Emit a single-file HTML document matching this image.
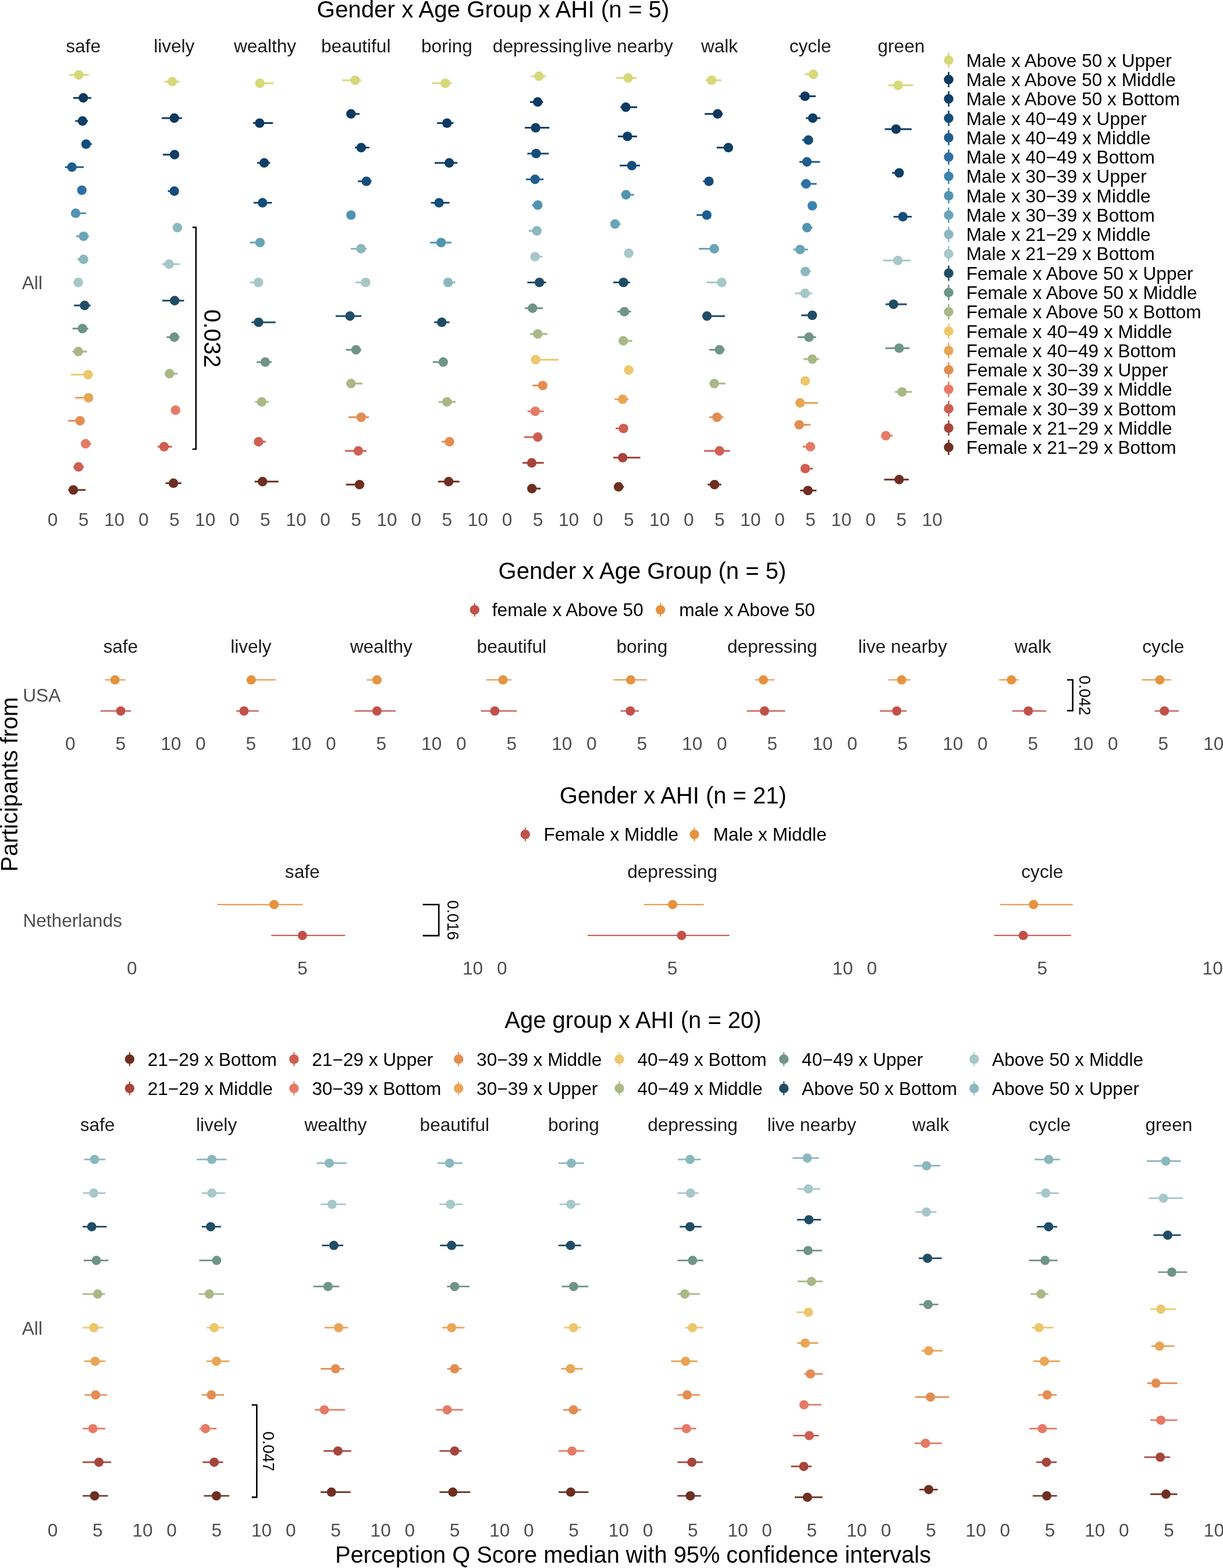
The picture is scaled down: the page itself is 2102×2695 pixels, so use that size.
<!DOCTYPE html>
<html><head><meta charset="utf-8"><title>Perception Q Score</title>
<style>html,body{margin:0;padding:0;background:#fff;} svg{display:block;} text{font-family:"Liberation Sans", Arial, sans-serif;}</style>
</head><body>
<svg width="2102" height="2695" viewBox="0 0 2102 2695">
<rect width="2102" height="2695" fill="#fff"/>
<text x="847.5" y="29.8" font-size="40.3" text-anchor="middle" fill="#000">Gender x Age Group x AHI (n = 5)</text>
<text x="143.1" y="89.6" font-size="31.6" text-anchor="middle" fill="#1A1A1A">safe</text>
<text x="90.5" y="903.5" font-size="31.6" text-anchor="middle" fill="#4D4D4D">0</text>
<text x="143.5" y="903.5" font-size="31.6" text-anchor="middle" fill="#4D4D4D">5</text>
<text x="196.5" y="903.5" font-size="31.6" text-anchor="middle" fill="#4D4D4D">10</text>
<line x1="118.9" y1="128.7" x2="152.9" y2="128.7" stroke="#D7D87A" stroke-width="3.0"/>
<circle cx="135.4" cy="128.7" r="8.2" fill="#D7D87A"/>
<line x1="126.0" y1="168.3" x2="156.8" y2="168.3" stroke="#0D3961" stroke-width="3.0"/>
<circle cx="143.2" cy="168.3" r="8.2" fill="#0D3961"/>
<line x1="129.3" y1="208.0" x2="151.0" y2="208.0" stroke="#0E3F67" stroke-width="3.0"/>
<circle cx="141.8" cy="208.0" r="8.2" fill="#0E3F67"/>
<line x1="147.9" y1="247.6" x2="157.9" y2="247.6" stroke="#144C7A" stroke-width="3.0"/>
<circle cx="147.9" cy="247.6" r="8.2" fill="#144C7A"/>
<line x1="111.8" y1="287.2" x2="143.9" y2="287.2" stroke="#1F5D90" stroke-width="3.0"/>
<circle cx="123.6" cy="287.2" r="8.2" fill="#1F5D90"/>
<circle cx="140.7" cy="326.9" r="8.2" fill="#2E70A4"/>
<line x1="130.0" y1="366.5" x2="147.9" y2="366.5" stroke="#5094B1" stroke-width="3.0"/>
<circle cx="130.0" cy="366.5" r="8.2" fill="#5094B1"/>
<line x1="130.7" y1="406.1" x2="152.9" y2="406.1" stroke="#69A4B7" stroke-width="3.0"/>
<circle cx="143.6" cy="406.1" r="8.2" fill="#69A4B7"/>
<line x1="132.9" y1="445.8" x2="143.6" y2="445.8" stroke="#8BB7BE" stroke-width="3.0"/>
<circle cx="143.6" cy="445.8" r="8.2" fill="#8BB7BE"/>
<line x1="126.4" y1="485.4" x2="134.6" y2="485.4" stroke="#A7C7C9" stroke-width="3.0"/>
<circle cx="134.6" cy="485.4" r="8.2" fill="#A7C7C9"/>
<line x1="127.0" y1="525.0" x2="155.7" y2="525.0" stroke="#1F4D66" stroke-width="3.0"/>
<circle cx="145.4" cy="525.0" r="8.2" fill="#1F4D66"/>
<line x1="124.6" y1="564.7" x2="151.8" y2="564.7" stroke="#6F9488" stroke-width="3.0"/>
<circle cx="141.8" cy="564.7" r="8.2" fill="#6F9488"/>
<line x1="124.6" y1="604.3" x2="149.3" y2="604.3" stroke="#A9B886" stroke-width="3.0"/>
<circle cx="134.6" cy="604.3" r="8.2" fill="#A9B886"/>
<line x1="121.8" y1="643.9" x2="151.4" y2="643.9" stroke="#EDC76C" stroke-width="3.0"/>
<circle cx="151.4" cy="643.9" r="8.2" fill="#EDC76C"/>
<line x1="128.9" y1="683.6" x2="152.1" y2="683.6" stroke="#E9A556" stroke-width="3.0"/>
<circle cx="152.1" cy="683.6" r="8.2" fill="#E9A556"/>
<line x1="117.1" y1="723.2" x2="137.5" y2="723.2" stroke="#E38D52" stroke-width="3.0"/>
<circle cx="137.5" cy="723.2" r="8.2" fill="#E38D52"/>
<line x1="147.1" y1="762.8" x2="156.8" y2="762.8" stroke="#E57B66" stroke-width="3.0"/>
<circle cx="147.1" cy="762.8" r="8.2" fill="#E57B66"/>
<line x1="126.0" y1="802.5" x2="143.9" y2="802.5" stroke="#CE5F50" stroke-width="3.0"/>
<circle cx="135.0" cy="802.5" r="8.2" fill="#CE5F50"/>
<line x1="117.5" y1="842.1" x2="147.1" y2="842.1" stroke="#6E2F22" stroke-width="3.0"/>
<circle cx="126.0" cy="842.1" r="8.2" fill="#6E2F22"/>
<text x="299.3" y="89.6" font-size="31.6" text-anchor="middle" fill="#1A1A1A">lively</text>
<text x="246.7" y="903.5" font-size="31.6" text-anchor="middle" fill="#4D4D4D">0</text>
<text x="299.7" y="903.5" font-size="31.6" text-anchor="middle" fill="#4D4D4D">5</text>
<text x="352.7" y="903.5" font-size="31.6" text-anchor="middle" fill="#4D4D4D">10</text>
<line x1="282.4" y1="140.3" x2="308.1" y2="140.3" stroke="#D7D87A" stroke-width="3.0"/>
<circle cx="296.0" cy="140.3" r="8.2" fill="#D7D87A"/>
<line x1="278.1" y1="203.0" x2="312.8" y2="203.0" stroke="#0D3961" stroke-width="3.0"/>
<circle cx="299.6" cy="203.0" r="8.2" fill="#0D3961"/>
<line x1="279.9" y1="265.8" x2="307.4" y2="265.8" stroke="#0E3F67" stroke-width="3.0"/>
<circle cx="300.0" cy="265.8" r="8.2" fill="#0E3F67"/>
<line x1="288.5" y1="328.5" x2="299.6" y2="328.5" stroke="#144C7A" stroke-width="3.0"/>
<circle cx="299.6" cy="328.5" r="8.2" fill="#144C7A"/>
<circle cx="304.9" cy="391.3" r="8.2" fill="#8BB7BE"/>
<line x1="278.5" y1="454.0" x2="308.9" y2="454.0" stroke="#A7C7C9" stroke-width="3.0"/>
<circle cx="290.6" cy="454.0" r="8.2" fill="#A7C7C9"/>
<line x1="278.9" y1="516.8" x2="316.4" y2="516.8" stroke="#1F4D66" stroke-width="3.0"/>
<circle cx="300.3" cy="516.8" r="8.2" fill="#1F4D66"/>
<line x1="286.4" y1="579.5" x2="308.5" y2="579.5" stroke="#6F9488" stroke-width="3.0"/>
<circle cx="299.6" cy="579.5" r="8.2" fill="#6F9488"/>
<line x1="283.1" y1="642.3" x2="305.3" y2="642.3" stroke="#A9B886" stroke-width="3.0"/>
<circle cx="291.4" cy="642.3" r="8.2" fill="#A9B886"/>
<circle cx="301.7" cy="705.0" r="8.2" fill="#E57B66"/>
<line x1="271.0" y1="767.8" x2="295.6" y2="767.8" stroke="#CE5F50" stroke-width="3.0"/>
<circle cx="282.0" cy="767.8" r="8.2" fill="#CE5F50"/>
<line x1="284.6" y1="830.5" x2="311.7" y2="830.5" stroke="#6E2F22" stroke-width="3.0"/>
<circle cx="298.1" cy="830.5" r="8.2" fill="#6E2F22"/>
<text x="455.5" y="89.6" font-size="31.6" text-anchor="middle" fill="#1A1A1A">wealthy</text>
<text x="402.9" y="903.5" font-size="31.6" text-anchor="middle" fill="#4D4D4D">0</text>
<text x="455.9" y="903.5" font-size="31.6" text-anchor="middle" fill="#4D4D4D">5</text>
<text x="508.9" y="903.5" font-size="31.6" text-anchor="middle" fill="#4D4D4D">10</text>
<line x1="446.6" y1="143.1" x2="469.8" y2="143.1" stroke="#D7D87A" stroke-width="3.0"/>
<circle cx="446.6" cy="143.1" r="8.2" fill="#D7D87A"/>
<line x1="434.8" y1="211.6" x2="469.1" y2="211.6" stroke="#0D3961" stroke-width="3.0"/>
<circle cx="446.2" cy="211.6" r="8.2" fill="#0D3961"/>
<line x1="441.9" y1="280.0" x2="464.4" y2="280.0" stroke="#0E3F67" stroke-width="3.0"/>
<circle cx="454.1" cy="280.0" r="8.2" fill="#0E3F67"/>
<line x1="435.9" y1="348.5" x2="467.3" y2="348.5" stroke="#144C7A" stroke-width="3.0"/>
<circle cx="451.2" cy="348.5" r="8.2" fill="#144C7A"/>
<line x1="429.4" y1="416.9" x2="446.9" y2="416.9" stroke="#69A4B7" stroke-width="3.0"/>
<circle cx="446.9" cy="416.9" r="8.2" fill="#69A4B7"/>
<line x1="429.4" y1="485.4" x2="444.1" y2="485.4" stroke="#A7C7C9" stroke-width="3.0"/>
<circle cx="444.1" cy="485.4" r="8.2" fill="#A7C7C9"/>
<line x1="432.3" y1="553.9" x2="473.7" y2="553.9" stroke="#1F4D66" stroke-width="3.0"/>
<circle cx="444.4" cy="553.9" r="8.2" fill="#1F4D66"/>
<line x1="441.2" y1="622.3" x2="466.9" y2="622.3" stroke="#6F9488" stroke-width="3.0"/>
<circle cx="455.9" cy="622.3" r="8.2" fill="#6F9488"/>
<line x1="438.4" y1="690.8" x2="461.9" y2="690.8" stroke="#A9B886" stroke-width="3.0"/>
<circle cx="449.8" cy="690.8" r="8.2" fill="#A9B886"/>
<line x1="444.4" y1="759.2" x2="456.6" y2="759.2" stroke="#CE5F50" stroke-width="3.0"/>
<circle cx="444.4" cy="759.2" r="8.2" fill="#CE5F50"/>
<line x1="437.6" y1="827.7" x2="478.7" y2="827.7" stroke="#6E2F22" stroke-width="3.0"/>
<circle cx="451.2" cy="827.7" r="8.2" fill="#6E2F22"/>
<text x="611.7" y="89.6" font-size="31.6" text-anchor="middle" fill="#1A1A1A">beautiful</text>
<text x="559.1" y="903.5" font-size="31.6" text-anchor="middle" fill="#4D4D4D">0</text>
<text x="612.1" y="903.5" font-size="31.6" text-anchor="middle" fill="#4D4D4D">5</text>
<text x="665.1" y="903.5" font-size="31.6" text-anchor="middle" fill="#4D4D4D">10</text>
<line x1="587.9" y1="137.9" x2="620.8" y2="137.9" stroke="#D7D87A" stroke-width="3.0"/>
<circle cx="610.4" cy="137.9" r="8.2" fill="#D7D87A"/>
<line x1="595.0" y1="195.8" x2="618.0" y2="195.8" stroke="#0D3961" stroke-width="3.0"/>
<circle cx="603.3" cy="195.8" r="8.2" fill="#0D3961"/>
<line x1="610.0" y1="253.7" x2="634.7" y2="253.7" stroke="#0E3F67" stroke-width="3.0"/>
<circle cx="620.8" cy="253.7" r="8.2" fill="#0E3F67"/>
<line x1="615.0" y1="311.6" x2="638.6" y2="311.6" stroke="#144C7A" stroke-width="3.0"/>
<circle cx="629.7" cy="311.6" r="8.2" fill="#144C7A"/>
<circle cx="603.3" cy="369.6" r="8.2" fill="#5094B1"/>
<line x1="602.9" y1="427.5" x2="630.4" y2="427.5" stroke="#8BB7BE" stroke-width="3.0"/>
<circle cx="620.4" cy="427.5" r="8.2" fill="#8BB7BE"/>
<line x1="610.8" y1="485.4" x2="628.3" y2="485.4" stroke="#A7C7C9" stroke-width="3.0"/>
<circle cx="628.3" cy="485.4" r="8.2" fill="#A7C7C9"/>
<line x1="576.9" y1="543.3" x2="621.1" y2="543.3" stroke="#1F4D66" stroke-width="3.0"/>
<circle cx="601.5" cy="543.3" r="8.2" fill="#1F4D66"/>
<line x1="594.4" y1="601.2" x2="620.8" y2="601.2" stroke="#6F9488" stroke-width="3.0"/>
<circle cx="611.9" cy="601.2" r="8.2" fill="#6F9488"/>
<line x1="603.3" y1="659.2" x2="622.9" y2="659.2" stroke="#A9B886" stroke-width="3.0"/>
<circle cx="603.3" cy="659.2" r="8.2" fill="#A9B886"/>
<line x1="599.0" y1="717.1" x2="634.0" y2="717.1" stroke="#E38D52" stroke-width="3.0"/>
<circle cx="620.8" cy="717.1" r="8.2" fill="#E38D52"/>
<line x1="592.9" y1="775.0" x2="630.0" y2="775.0" stroke="#CE5F50" stroke-width="3.0"/>
<circle cx="615.8" cy="775.0" r="8.2" fill="#CE5F50"/>
<line x1="594.7" y1="832.9" x2="617.9" y2="832.9" stroke="#6E2F22" stroke-width="3.0"/>
<circle cx="617.9" cy="832.9" r="8.2" fill="#6E2F22"/>
<text x="767.9" y="89.6" font-size="31.6" text-anchor="middle" fill="#1A1A1A">boring</text>
<text x="715.3" y="903.5" font-size="31.6" text-anchor="middle" fill="#4D4D4D">0</text>
<text x="768.3" y="903.5" font-size="31.6" text-anchor="middle" fill="#4D4D4D">5</text>
<text x="821.3" y="903.5" font-size="31.6" text-anchor="middle" fill="#4D4D4D">10</text>
<line x1="742.5" y1="143.1" x2="776.4" y2="143.1" stroke="#D7D87A" stroke-width="3.0"/>
<circle cx="765.4" cy="143.1" r="8.2" fill="#D7D87A"/>
<line x1="751.1" y1="211.6" x2="779.6" y2="211.6" stroke="#0D3961" stroke-width="3.0"/>
<circle cx="768.2" cy="211.6" r="8.2" fill="#0D3961"/>
<line x1="747.1" y1="280.0" x2="786.1" y2="280.0" stroke="#0E3F67" stroke-width="3.0"/>
<circle cx="772.1" cy="280.0" r="8.2" fill="#0E3F67"/>
<line x1="740.7" y1="348.5" x2="772.5" y2="348.5" stroke="#144C7A" stroke-width="3.0"/>
<circle cx="754.6" cy="348.5" r="8.2" fill="#144C7A"/>
<line x1="739.3" y1="416.9" x2="775.7" y2="416.9" stroke="#5094B1" stroke-width="3.0"/>
<circle cx="758.2" cy="416.9" r="8.2" fill="#5094B1"/>
<line x1="770.0" y1="485.4" x2="782.5" y2="485.4" stroke="#8BB7BE" stroke-width="3.0"/>
<circle cx="770.0" cy="485.4" r="8.2" fill="#8BB7BE"/>
<line x1="746.1" y1="553.9" x2="772.5" y2="553.9" stroke="#1F4D66" stroke-width="3.0"/>
<circle cx="759.3" cy="553.9" r="8.2" fill="#1F4D66"/>
<line x1="743.9" y1="622.3" x2="761.8" y2="622.3" stroke="#6F9488" stroke-width="3.0"/>
<circle cx="761.8" cy="622.3" r="8.2" fill="#6F9488"/>
<line x1="753.9" y1="690.8" x2="783.2" y2="690.8" stroke="#A9B886" stroke-width="3.0"/>
<circle cx="768.2" cy="690.8" r="8.2" fill="#A9B886"/>
<line x1="759.3" y1="759.2" x2="772.5" y2="759.2" stroke="#E38D52" stroke-width="3.0"/>
<circle cx="772.5" cy="759.2" r="8.2" fill="#E38D52"/>
<line x1="752.9" y1="827.7" x2="789.6" y2="827.7" stroke="#6E2F22" stroke-width="3.0"/>
<circle cx="771.1" cy="827.7" r="8.2" fill="#6E2F22"/>
<text x="924.1" y="89.6" font-size="31.6" text-anchor="middle" fill="#1A1A1A">depressing</text>
<text x="871.5" y="903.5" font-size="31.6" text-anchor="middle" fill="#4D4D4D">0</text>
<text x="924.5" y="903.5" font-size="31.6" text-anchor="middle" fill="#4D4D4D">5</text>
<text x="977.5" y="903.5" font-size="31.6" text-anchor="middle" fill="#4D4D4D">10</text>
<line x1="912.8" y1="131.0" x2="938.5" y2="131.0" stroke="#D7D87A" stroke-width="3.0"/>
<circle cx="926.4" cy="131.0" r="8.2" fill="#D7D87A"/>
<line x1="911.0" y1="175.3" x2="933.5" y2="175.3" stroke="#0D3961" stroke-width="3.0"/>
<circle cx="924.2" cy="175.3" r="8.2" fill="#0D3961"/>
<line x1="902.1" y1="219.6" x2="944.2" y2="219.6" stroke="#0E3F67" stroke-width="3.0"/>
<circle cx="920.6" cy="219.6" r="8.2" fill="#0E3F67"/>
<line x1="906.4" y1="263.9" x2="943.1" y2="263.9" stroke="#144C7A" stroke-width="3.0"/>
<circle cx="921.4" cy="263.9" r="8.2" fill="#144C7A"/>
<line x1="903.9" y1="308.2" x2="934.2" y2="308.2" stroke="#1F5D90" stroke-width="3.0"/>
<circle cx="919.6" cy="308.2" r="8.2" fill="#1F5D90"/>
<line x1="914.2" y1="352.5" x2="924.2" y2="352.5" stroke="#5094B1" stroke-width="3.0"/>
<circle cx="924.2" cy="352.5" r="8.2" fill="#5094B1"/>
<line x1="908.9" y1="396.8" x2="922.8" y2="396.8" stroke="#8BB7BE" stroke-width="3.0"/>
<circle cx="922.8" cy="396.8" r="8.2" fill="#8BB7BE"/>
<line x1="919.6" y1="441.1" x2="932.4" y2="441.1" stroke="#A7C7C9" stroke-width="3.0"/>
<circle cx="919.6" cy="441.1" r="8.2" fill="#A7C7C9"/>
<line x1="906.4" y1="485.4" x2="938.5" y2="485.4" stroke="#1F4D66" stroke-width="3.0"/>
<circle cx="927.1" cy="485.4" r="8.2" fill="#1F4D66"/>
<line x1="902.1" y1="529.7" x2="933.1" y2="529.7" stroke="#6F9488" stroke-width="3.0"/>
<circle cx="915.3" cy="529.7" r="8.2" fill="#6F9488"/>
<line x1="911.0" y1="574.0" x2="941.0" y2="574.0" stroke="#A9B886" stroke-width="3.0"/>
<circle cx="924.2" cy="574.0" r="8.2" fill="#A9B886"/>
<line x1="920.6" y1="618.3" x2="959.9" y2="618.3" stroke="#EDC76C" stroke-width="3.0"/>
<circle cx="920.6" cy="618.3" r="8.2" fill="#EDC76C"/>
<line x1="915.3" y1="662.6" x2="932.8" y2="662.6" stroke="#E38D52" stroke-width="3.0"/>
<circle cx="932.8" cy="662.6" r="8.2" fill="#E38D52"/>
<line x1="906.7" y1="706.9" x2="934.6" y2="706.9" stroke="#E57B66" stroke-width="3.0"/>
<circle cx="919.9" cy="706.9" r="8.2" fill="#E57B66"/>
<line x1="901.0" y1="751.2" x2="924.2" y2="751.2" stroke="#CE5F50" stroke-width="3.0"/>
<circle cx="924.2" cy="751.2" r="8.2" fill="#CE5F50"/>
<line x1="898.1" y1="795.5" x2="934.6" y2="795.5" stroke="#A6453B" stroke-width="3.0"/>
<circle cx="913.9" cy="795.5" r="8.2" fill="#A6453B"/>
<line x1="914.2" y1="839.8" x2="929.2" y2="839.8" stroke="#6E2F22" stroke-width="3.0"/>
<circle cx="914.2" cy="839.8" r="8.2" fill="#6E2F22"/>
<text x="1080.3" y="89.6" font-size="31.6" text-anchor="middle" fill="#1A1A1A">live nearby</text>
<text x="1027.7" y="903.5" font-size="31.6" text-anchor="middle" fill="#4D4D4D">0</text>
<text x="1080.7" y="903.5" font-size="31.6" text-anchor="middle" fill="#4D4D4D">5</text>
<text x="1133.7" y="903.5" font-size="31.6" text-anchor="middle" fill="#4D4D4D">10</text>
<line x1="1059.1" y1="134.0" x2="1094.5" y2="134.0" stroke="#D7D87A" stroke-width="3.0"/>
<circle cx="1079.5" cy="134.0" r="8.2" fill="#D7D87A"/>
<line x1="1066.3" y1="184.2" x2="1095.2" y2="184.2" stroke="#0D3961" stroke-width="3.0"/>
<circle cx="1075.6" cy="184.2" r="8.2" fill="#0D3961"/>
<line x1="1062.0" y1="234.4" x2="1094.9" y2="234.4" stroke="#0E3F67" stroke-width="3.0"/>
<circle cx="1078.4" cy="234.4" r="8.2" fill="#0E3F67"/>
<line x1="1065.2" y1="284.6" x2="1099.9" y2="284.6" stroke="#144C7A" stroke-width="3.0"/>
<circle cx="1085.9" cy="284.6" r="8.2" fill="#144C7A"/>
<line x1="1075.9" y1="334.8" x2="1089.5" y2="334.8" stroke="#5094B1" stroke-width="3.0"/>
<circle cx="1075.9" cy="334.8" r="8.2" fill="#5094B1"/>
<line x1="1057.0" y1="385.0" x2="1066.6" y2="385.0" stroke="#69A4B7" stroke-width="3.0"/>
<circle cx="1057.0" cy="385.0" r="8.2" fill="#69A4B7"/>
<circle cx="1080.6" cy="435.2" r="8.2" fill="#A7C7C9"/>
<line x1="1054.1" y1="485.4" x2="1082.7" y2="485.4" stroke="#1F4D66" stroke-width="3.0"/>
<circle cx="1071.6" cy="485.4" r="8.2" fill="#1F4D66"/>
<line x1="1060.9" y1="535.6" x2="1084.5" y2="535.6" stroke="#6F9488" stroke-width="3.0"/>
<circle cx="1073.1" cy="535.6" r="8.2" fill="#6F9488"/>
<line x1="1071.3" y1="585.8" x2="1086.6" y2="585.8" stroke="#A9B886" stroke-width="3.0"/>
<circle cx="1071.3" cy="585.8" r="8.2" fill="#A9B886"/>
<circle cx="1080.6" cy="636.0" r="8.2" fill="#EDC76C"/>
<line x1="1056.3" y1="686.2" x2="1080.2" y2="686.2" stroke="#E9A556" stroke-width="3.0"/>
<circle cx="1070.2" cy="686.2" r="8.2" fill="#E9A556"/>
<line x1="1058.1" y1="736.4" x2="1071.6" y2="736.4" stroke="#CE5F50" stroke-width="3.0"/>
<circle cx="1071.6" cy="736.4" r="8.2" fill="#CE5F50"/>
<line x1="1054.1" y1="786.6" x2="1100.6" y2="786.6" stroke="#A6453B" stroke-width="3.0"/>
<circle cx="1070.2" cy="786.6" r="8.2" fill="#A6453B"/>
<line x1="1063.1" y1="836.8" x2="1072.4" y2="836.8" stroke="#6E2F22" stroke-width="3.0"/>
<circle cx="1063.1" cy="836.8" r="8.2" fill="#6E2F22"/>
<text x="1236.5" y="89.6" font-size="31.6" text-anchor="middle" fill="#1A1A1A">walk</text>
<text x="1183.9" y="903.5" font-size="31.6" text-anchor="middle" fill="#4D4D4D">0</text>
<text x="1236.9" y="903.5" font-size="31.6" text-anchor="middle" fill="#4D4D4D">5</text>
<text x="1289.9" y="903.5" font-size="31.6" text-anchor="middle" fill="#4D4D4D">10</text>
<line x1="1211.9" y1="137.9" x2="1239.8" y2="137.9" stroke="#D7D87A" stroke-width="3.0"/>
<circle cx="1223.0" cy="137.9" r="8.2" fill="#D7D87A"/>
<line x1="1211.2" y1="195.8" x2="1242.3" y2="195.8" stroke="#0D3961" stroke-width="3.0"/>
<circle cx="1233.4" cy="195.8" r="8.2" fill="#0D3961"/>
<line x1="1231.9" y1="253.7" x2="1251.9" y2="253.7" stroke="#0E3F67" stroke-width="3.0"/>
<circle cx="1251.9" cy="253.7" r="8.2" fill="#0E3F67"/>
<line x1="1208.4" y1="311.6" x2="1218.4" y2="311.6" stroke="#144C7A" stroke-width="3.0"/>
<circle cx="1218.4" cy="311.6" r="8.2" fill="#144C7A"/>
<line x1="1197.3" y1="369.6" x2="1214.8" y2="369.6" stroke="#1F5D90" stroke-width="3.0"/>
<circle cx="1214.8" cy="369.6" r="8.2" fill="#1F5D90"/>
<line x1="1201.2" y1="427.5" x2="1227.6" y2="427.5" stroke="#69A4B7" stroke-width="3.0"/>
<circle cx="1227.6" cy="427.5" r="8.2" fill="#69A4B7"/>
<line x1="1214.8" y1="485.4" x2="1240.5" y2="485.4" stroke="#A7C7C9" stroke-width="3.0"/>
<circle cx="1240.5" cy="485.4" r="8.2" fill="#A7C7C9"/>
<line x1="1215.1" y1="543.3" x2="1245.9" y2="543.3" stroke="#1F4D66" stroke-width="3.0"/>
<circle cx="1215.1" cy="543.3" r="8.2" fill="#1F4D66"/>
<line x1="1219.1" y1="601.2" x2="1245.5" y2="601.2" stroke="#6F9488" stroke-width="3.0"/>
<circle cx="1236.6" cy="601.2" r="8.2" fill="#6F9488"/>
<line x1="1227.6" y1="659.2" x2="1246.6" y2="659.2" stroke="#A9B886" stroke-width="3.0"/>
<circle cx="1227.6" cy="659.2" r="8.2" fill="#A9B886"/>
<line x1="1219.1" y1="717.1" x2="1243.4" y2="717.1" stroke="#E38D52" stroke-width="3.0"/>
<circle cx="1232.3" cy="717.1" r="8.2" fill="#E38D52"/>
<line x1="1210.1" y1="775.0" x2="1254.8" y2="775.0" stroke="#CE5F50" stroke-width="3.0"/>
<circle cx="1236.6" cy="775.0" r="8.2" fill="#CE5F50"/>
<line x1="1216.2" y1="832.9" x2="1239.8" y2="832.9" stroke="#6E2F22" stroke-width="3.0"/>
<circle cx="1228.0" cy="832.9" r="8.2" fill="#6E2F22"/>
<text x="1392.7" y="89.6" font-size="31.6" text-anchor="middle" fill="#1A1A1A">cycle</text>
<text x="1340.1" y="903.5" font-size="31.6" text-anchor="middle" fill="#4D4D4D">0</text>
<text x="1393.1" y="903.5" font-size="31.6" text-anchor="middle" fill="#4D4D4D">5</text>
<text x="1446.1" y="903.5" font-size="31.6" text-anchor="middle" fill="#4D4D4D">10</text>
<line x1="1383.3" y1="127.7" x2="1397.9" y2="127.7" stroke="#D7D87A" stroke-width="3.0"/>
<circle cx="1397.9" cy="127.7" r="8.2" fill="#D7D87A"/>
<line x1="1373.3" y1="165.4" x2="1401.9" y2="165.4" stroke="#0D3961" stroke-width="3.0"/>
<circle cx="1383.6" cy="165.4" r="8.2" fill="#0D3961"/>
<line x1="1385.1" y1="203.0" x2="1410.1" y2="203.0" stroke="#0E3F67" stroke-width="3.0"/>
<circle cx="1396.9" cy="203.0" r="8.2" fill="#0E3F67"/>
<line x1="1378.6" y1="240.7" x2="1389.4" y2="240.7" stroke="#144C7A" stroke-width="3.0"/>
<circle cx="1389.4" cy="240.7" r="8.2" fill="#144C7A"/>
<line x1="1374.0" y1="278.3" x2="1409.4" y2="278.3" stroke="#1F5D90" stroke-width="3.0"/>
<circle cx="1386.9" cy="278.3" r="8.2" fill="#1F5D90"/>
<line x1="1376.5" y1="316.0" x2="1403.6" y2="316.0" stroke="#2E70A4" stroke-width="3.0"/>
<circle cx="1385.4" cy="316.0" r="8.2" fill="#2E70A4"/>
<circle cx="1396.1" cy="353.6" r="8.2" fill="#3B82AF"/>
<line x1="1386.9" y1="391.3" x2="1396.5" y2="391.3" stroke="#5094B1" stroke-width="3.0"/>
<circle cx="1386.9" cy="391.3" r="8.2" fill="#5094B1"/>
<line x1="1363.6" y1="428.9" x2="1388.6" y2="428.9" stroke="#69A4B7" stroke-width="3.0"/>
<circle cx="1375.1" cy="428.9" r="8.2" fill="#69A4B7"/>
<line x1="1384.0" y1="466.6" x2="1393.3" y2="466.6" stroke="#8BB7BE" stroke-width="3.0"/>
<circle cx="1384.0" cy="466.6" r="8.2" fill="#8BB7BE"/>
<line x1="1366.1" y1="504.2" x2="1395.8" y2="504.2" stroke="#A7C7C9" stroke-width="3.0"/>
<circle cx="1383.6" cy="504.2" r="8.2" fill="#A7C7C9"/>
<line x1="1377.2" y1="541.9" x2="1396.1" y2="541.9" stroke="#1F4D66" stroke-width="3.0"/>
<circle cx="1396.1" cy="541.9" r="8.2" fill="#1F4D66"/>
<line x1="1371.1" y1="579.5" x2="1402.6" y2="579.5" stroke="#6F9488" stroke-width="3.0"/>
<circle cx="1390.4" cy="579.5" r="8.2" fill="#6F9488"/>
<line x1="1381.1" y1="617.2" x2="1407.9" y2="617.2" stroke="#A9B886" stroke-width="3.0"/>
<circle cx="1396.1" cy="617.2" r="8.2" fill="#A9B886"/>
<circle cx="1384.0" cy="654.8" r="8.2" fill="#EDC76C"/>
<line x1="1375.1" y1="692.5" x2="1406.1" y2="692.5" stroke="#E9A556" stroke-width="3.0"/>
<circle cx="1375.1" cy="692.5" r="8.2" fill="#E9A556"/>
<line x1="1373.6" y1="730.1" x2="1392.9" y2="730.1" stroke="#E38D52" stroke-width="3.0"/>
<circle cx="1373.6" cy="730.1" r="8.2" fill="#E38D52"/>
<line x1="1379.7" y1="767.8" x2="1392.9" y2="767.8" stroke="#E57B66" stroke-width="3.0"/>
<circle cx="1392.9" cy="767.8" r="8.2" fill="#E57B66"/>
<line x1="1384.0" y1="805.4" x2="1397.2" y2="805.4" stroke="#CE5F50" stroke-width="3.0"/>
<circle cx="1384.0" cy="805.4" r="8.2" fill="#CE5F50"/>
<line x1="1375.1" y1="843.1" x2="1403.3" y2="843.1" stroke="#6E2F22" stroke-width="3.0"/>
<circle cx="1388.6" cy="843.1" r="8.2" fill="#6E2F22"/>
<text x="1548.9" y="89.6" font-size="31.6" text-anchor="middle" fill="#1A1A1A">green</text>
<text x="1496.3" y="903.5" font-size="31.6" text-anchor="middle" fill="#4D4D4D">0</text>
<text x="1549.3" y="903.5" font-size="31.6" text-anchor="middle" fill="#4D4D4D">5</text>
<text x="1602.3" y="903.5" font-size="31.6" text-anchor="middle" fill="#4D4D4D">10</text>
<line x1="1527.1" y1="146.6" x2="1569.6" y2="146.6" stroke="#D7D87A" stroke-width="3.0"/>
<circle cx="1543.6" cy="146.6" r="8.2" fill="#D7D87A"/>
<line x1="1520.7" y1="221.9" x2="1566.8" y2="221.9" stroke="#0D3961" stroke-width="3.0"/>
<circle cx="1540.0" cy="221.9" r="8.2" fill="#0D3961"/>
<line x1="1533.2" y1="297.1" x2="1545.4" y2="297.1" stroke="#0E3F67" stroke-width="3.0"/>
<circle cx="1545.4" cy="297.1" r="8.2" fill="#0E3F67"/>
<line x1="1535.7" y1="372.5" x2="1567.1" y2="372.5" stroke="#144C7A" stroke-width="3.0"/>
<circle cx="1551.8" cy="372.5" r="8.2" fill="#144C7A"/>
<line x1="1517.9" y1="447.8" x2="1565.0" y2="447.8" stroke="#A7C7C9" stroke-width="3.0"/>
<circle cx="1543.2" cy="447.8" r="8.2" fill="#A7C7C9"/>
<line x1="1522.1" y1="523.0" x2="1558.6" y2="523.0" stroke="#1F4D66" stroke-width="3.0"/>
<circle cx="1535.7" cy="523.0" r="8.2" fill="#1F4D66"/>
<line x1="1521.8" y1="598.4" x2="1563.2" y2="598.4" stroke="#6F9488" stroke-width="3.0"/>
<circle cx="1545.4" cy="598.4" r="8.2" fill="#6F9488"/>
<line x1="1538.2" y1="673.6" x2="1567.5" y2="673.6" stroke="#A9B886" stroke-width="3.0"/>
<circle cx="1550.4" cy="673.6" r="8.2" fill="#A9B886"/>
<line x1="1522.5" y1="748.9" x2="1534.3" y2="748.9" stroke="#E57B66" stroke-width="3.0"/>
<circle cx="1522.5" cy="748.9" r="8.2" fill="#E57B66"/>
<line x1="1519.6" y1="824.2" x2="1561.8" y2="824.2" stroke="#6E2F22" stroke-width="3.0"/>
<circle cx="1545.4" cy="824.2" r="8.2" fill="#6E2F22"/>
<text x="37.8" y="497.3" font-size="31.6" text-anchor="start" fill="#4D4D4D">All</text>
<path d="M330.7,390.7 H336.8 V772 H330.7" fill="none" stroke="#000" stroke-width="2.6"/>
<text x="0.0" y="0.0" font-size="40" text-anchor="middle" fill="#000" transform="translate(351.3,581.7) rotate(90)">0.032</text>
<line x1="1630.5" y1="90.3" x2="1630.5" y2="116.7" stroke="#D7D87A" stroke-width="2.6"/>
<circle cx="1630.5" cy="103.5" r="8.2" fill="#D7D87A"/>
<text x="1660.7" y="114.7" font-size="31.6" text-anchor="start" fill="#000">Male x Above 50 x Upper</text>
<line x1="1630.5" y1="123.6" x2="1630.5" y2="150.0" stroke="#0D3961" stroke-width="2.6"/>
<circle cx="1630.5" cy="136.8" r="8.2" fill="#0D3961"/>
<text x="1660.7" y="148.0" font-size="31.6" text-anchor="start" fill="#000">Male x Above 50 x Middle</text>
<line x1="1630.5" y1="156.8" x2="1630.5" y2="183.2" stroke="#0E3F67" stroke-width="2.6"/>
<circle cx="1630.5" cy="170.0" r="8.2" fill="#0E3F67"/>
<text x="1660.7" y="181.2" font-size="31.6" text-anchor="start" fill="#000">Male x Above 50 x Bottom</text>
<line x1="1630.5" y1="190.1" x2="1630.5" y2="216.5" stroke="#144C7A" stroke-width="2.6"/>
<circle cx="1630.5" cy="203.3" r="8.2" fill="#144C7A"/>
<text x="1660.7" y="214.5" font-size="31.6" text-anchor="start" fill="#000">Male x 40−49 x Upper</text>
<line x1="1630.5" y1="223.4" x2="1630.5" y2="249.8" stroke="#1F5D90" stroke-width="2.6"/>
<circle cx="1630.5" cy="236.6" r="8.2" fill="#1F5D90"/>
<text x="1660.7" y="247.8" font-size="31.6" text-anchor="start" fill="#000">Male x 40−49 x Middle</text>
<line x1="1630.5" y1="256.7" x2="1630.5" y2="283.1" stroke="#2E70A4" stroke-width="2.6"/>
<circle cx="1630.5" cy="269.9" r="8.2" fill="#2E70A4"/>
<text x="1660.7" y="281.1" font-size="31.6" text-anchor="start" fill="#000">Male x 40−49 x Bottom</text>
<line x1="1630.5" y1="289.9" x2="1630.5" y2="316.3" stroke="#3B82AF" stroke-width="2.6"/>
<circle cx="1630.5" cy="303.1" r="8.2" fill="#3B82AF"/>
<text x="1660.7" y="314.3" font-size="31.6" text-anchor="start" fill="#000">Male x 30−39 x Upper</text>
<line x1="1630.5" y1="323.2" x2="1630.5" y2="349.6" stroke="#5094B1" stroke-width="2.6"/>
<circle cx="1630.5" cy="336.4" r="8.2" fill="#5094B1"/>
<text x="1660.7" y="347.6" font-size="31.6" text-anchor="start" fill="#000">Male x 30−39 x Middle</text>
<line x1="1630.5" y1="356.5" x2="1630.5" y2="382.9" stroke="#69A4B7" stroke-width="2.6"/>
<circle cx="1630.5" cy="369.7" r="8.2" fill="#69A4B7"/>
<text x="1660.7" y="380.9" font-size="31.6" text-anchor="start" fill="#000">Male x 30−39 x Bottom</text>
<line x1="1630.5" y1="389.7" x2="1630.5" y2="416.1" stroke="#8BB7BE" stroke-width="2.6"/>
<circle cx="1630.5" cy="402.9" r="8.2" fill="#8BB7BE"/>
<text x="1660.7" y="414.1" font-size="31.6" text-anchor="start" fill="#000">Male x 21−29 x Middle</text>
<line x1="1630.5" y1="423.0" x2="1630.5" y2="449.4" stroke="#A7C7C9" stroke-width="2.6"/>
<circle cx="1630.5" cy="436.2" r="8.2" fill="#A7C7C9"/>
<text x="1660.7" y="447.4" font-size="31.6" text-anchor="start" fill="#000">Male x 21−29 x Bottom</text>
<line x1="1630.5" y1="456.3" x2="1630.5" y2="482.7" stroke="#1F4D66" stroke-width="2.6"/>
<circle cx="1630.5" cy="469.5" r="8.2" fill="#1F4D66"/>
<text x="1660.7" y="480.7" font-size="31.6" text-anchor="start" fill="#000">Female x Above 50 x Upper</text>
<line x1="1630.5" y1="489.5" x2="1630.5" y2="515.9" stroke="#6F9488" stroke-width="2.6"/>
<circle cx="1630.5" cy="502.7" r="8.2" fill="#6F9488"/>
<text x="1660.7" y="513.9" font-size="31.6" text-anchor="start" fill="#000">Female x Above 50 x Middle</text>
<line x1="1630.5" y1="522.8" x2="1630.5" y2="549.2" stroke="#A9B886" stroke-width="2.6"/>
<circle cx="1630.5" cy="536.0" r="8.2" fill="#A9B886"/>
<text x="1660.7" y="547.2" font-size="31.6" text-anchor="start" fill="#000">Female x Above 50 x Bottom</text>
<line x1="1630.5" y1="556.1" x2="1630.5" y2="582.5" stroke="#EDC76C" stroke-width="2.6"/>
<circle cx="1630.5" cy="569.3" r="8.2" fill="#EDC76C"/>
<text x="1660.7" y="580.5" font-size="31.6" text-anchor="start" fill="#000">Female x 40−49 x Middle</text>
<line x1="1630.5" y1="589.4" x2="1630.5" y2="615.8" stroke="#E9A556" stroke-width="2.6"/>
<circle cx="1630.5" cy="602.6" r="8.2" fill="#E9A556"/>
<text x="1660.7" y="613.8" font-size="31.6" text-anchor="start" fill="#000">Female x 40−49 x Bottom</text>
<line x1="1630.5" y1="622.6" x2="1630.5" y2="649.0" stroke="#E38D52" stroke-width="2.6"/>
<circle cx="1630.5" cy="635.8" r="8.2" fill="#E38D52"/>
<text x="1660.7" y="647.0" font-size="31.6" text-anchor="start" fill="#000">Female x 30−39 x Upper</text>
<line x1="1630.5" y1="655.9" x2="1630.5" y2="682.3" stroke="#E57B66" stroke-width="2.6"/>
<circle cx="1630.5" cy="669.1" r="8.2" fill="#E57B66"/>
<text x="1660.7" y="680.3" font-size="31.6" text-anchor="start" fill="#000">Female x 30−39 x Middle</text>
<line x1="1630.5" y1="689.2" x2="1630.5" y2="715.6" stroke="#CE5F50" stroke-width="2.6"/>
<circle cx="1630.5" cy="702.4" r="8.2" fill="#CE5F50"/>
<text x="1660.7" y="713.6" font-size="31.6" text-anchor="start" fill="#000">Female x 30−39 x Bottom</text>
<line x1="1630.5" y1="722.4" x2="1630.5" y2="748.8" stroke="#A6453B" stroke-width="2.6"/>
<circle cx="1630.5" cy="735.6" r="8.2" fill="#A6453B"/>
<text x="1660.7" y="746.8" font-size="31.6" text-anchor="start" fill="#000">Female x 21−29 x Middle</text>
<line x1="1630.5" y1="755.7" x2="1630.5" y2="782.1" stroke="#6E2F22" stroke-width="2.6"/>
<circle cx="1630.5" cy="768.9" r="8.2" fill="#6E2F22"/>
<text x="1660.7" y="780.1" font-size="31.6" text-anchor="start" fill="#000">Female x 21−29 x Bottom</text>
<text x="1103.9" y="994.7" font-size="40" text-anchor="middle" fill="#000">Gender x Age Group (n = 5)</text>
<line x1="815.8" y1="1036.4" x2="815.8" y2="1059.8" stroke="#C25049" stroke-width="2.0"/>
<circle cx="815.8" cy="1048.1" r="8.2" fill="#C25049"/>
<text x="845.8" y="1059.3" font-size="31.6" text-anchor="start" fill="#000">female x Above 50</text>
<line x1="1135.1" y1="1036.4" x2="1135.1" y2="1059.8" stroke="#E5933F" stroke-width="2.0"/>
<circle cx="1135.1" cy="1048.1" r="8.2" fill="#E5933F"/>
<text x="1167.2" y="1059.3" font-size="31.6" text-anchor="start" fill="#000">male x Above 50</text>
<text x="207.3" y="1122.0" font-size="31.6" text-anchor="middle" fill="#1A1A1A">safe</text>
<text x="120.8" y="1288.5" font-size="31.6" text-anchor="middle" fill="#4D4D4D">0</text>
<text x="207.3" y="1288.5" font-size="31.6" text-anchor="middle" fill="#4D4D4D">5</text>
<text x="293.8" y="1288.5" font-size="31.6" text-anchor="middle" fill="#4D4D4D">10</text>
<text x="431.3" y="1122.0" font-size="31.6" text-anchor="middle" fill="#1A1A1A">lively</text>
<text x="344.8" y="1288.5" font-size="31.6" text-anchor="middle" fill="#4D4D4D">0</text>
<text x="431.3" y="1288.5" font-size="31.6" text-anchor="middle" fill="#4D4D4D">5</text>
<text x="517.8" y="1288.5" font-size="31.6" text-anchor="middle" fill="#4D4D4D">10</text>
<text x="655.3" y="1122.0" font-size="31.6" text-anchor="middle" fill="#1A1A1A">wealthy</text>
<text x="568.8" y="1288.5" font-size="31.6" text-anchor="middle" fill="#4D4D4D">0</text>
<text x="655.3" y="1288.5" font-size="31.6" text-anchor="middle" fill="#4D4D4D">5</text>
<text x="741.8" y="1288.5" font-size="31.6" text-anchor="middle" fill="#4D4D4D">10</text>
<text x="879.3" y="1122.0" font-size="31.6" text-anchor="middle" fill="#1A1A1A">beautiful</text>
<text x="792.8" y="1288.5" font-size="31.6" text-anchor="middle" fill="#4D4D4D">0</text>
<text x="879.3" y="1288.5" font-size="31.6" text-anchor="middle" fill="#4D4D4D">5</text>
<text x="965.8" y="1288.5" font-size="31.6" text-anchor="middle" fill="#4D4D4D">10</text>
<text x="1103.3" y="1122.0" font-size="31.6" text-anchor="middle" fill="#1A1A1A">boring</text>
<text x="1016.8" y="1288.5" font-size="31.6" text-anchor="middle" fill="#4D4D4D">0</text>
<text x="1103.3" y="1288.5" font-size="31.6" text-anchor="middle" fill="#4D4D4D">5</text>
<text x="1189.8" y="1288.5" font-size="31.6" text-anchor="middle" fill="#4D4D4D">10</text>
<text x="1327.3" y="1122.0" font-size="31.6" text-anchor="middle" fill="#1A1A1A">depressing</text>
<text x="1240.8" y="1288.5" font-size="31.6" text-anchor="middle" fill="#4D4D4D">0</text>
<text x="1327.3" y="1288.5" font-size="31.6" text-anchor="middle" fill="#4D4D4D">5</text>
<text x="1413.8" y="1288.5" font-size="31.6" text-anchor="middle" fill="#4D4D4D">10</text>
<text x="1551.3" y="1122.0" font-size="31.6" text-anchor="middle" fill="#1A1A1A">live nearby</text>
<text x="1464.8" y="1288.5" font-size="31.6" text-anchor="middle" fill="#4D4D4D">0</text>
<text x="1551.3" y="1288.5" font-size="31.6" text-anchor="middle" fill="#4D4D4D">5</text>
<text x="1637.8" y="1288.5" font-size="31.6" text-anchor="middle" fill="#4D4D4D">10</text>
<text x="1775.3" y="1122.0" font-size="31.6" text-anchor="middle" fill="#1A1A1A">walk</text>
<text x="1688.8" y="1288.5" font-size="31.6" text-anchor="middle" fill="#4D4D4D">0</text>
<text x="1775.3" y="1288.5" font-size="31.6" text-anchor="middle" fill="#4D4D4D">5</text>
<text x="1861.8" y="1288.5" font-size="31.6" text-anchor="middle" fill="#4D4D4D">10</text>
<text x="1999.3" y="1122.0" font-size="31.6" text-anchor="middle" fill="#1A1A1A">cycle</text>
<text x="1912.8" y="1288.5" font-size="31.6" text-anchor="middle" fill="#4D4D4D">0</text>
<text x="1999.3" y="1288.5" font-size="31.6" text-anchor="middle" fill="#4D4D4D">5</text>
<text x="2085.8" y="1288.5" font-size="31.6" text-anchor="middle" fill="#4D4D4D">10</text>
<line x1="180.4" y1="1168.6" x2="215.7" y2="1168.6" stroke="#E5933F" stroke-width="2.0"/>
<circle cx="197.5" cy="1168.6" r="8.0" fill="#E5933F"/>
<line x1="431.8" y1="1168.6" x2="474.0" y2="1168.6" stroke="#E5933F" stroke-width="2.0"/>
<circle cx="431.8" cy="1168.6" r="8.0" fill="#E5933F"/>
<line x1="630.2" y1="1168.6" x2="655.0" y2="1168.6" stroke="#E5933F" stroke-width="2.0"/>
<circle cx="647.9" cy="1168.6" r="8.0" fill="#E5933F"/>
<line x1="835.8" y1="1168.6" x2="879.2" y2="1168.6" stroke="#E5933F" stroke-width="2.0"/>
<circle cx="864.5" cy="1168.6" r="8.0" fill="#E5933F"/>
<line x1="1054.3" y1="1168.6" x2="1111.8" y2="1168.6" stroke="#E5933F" stroke-width="2.0"/>
<circle cx="1084.0" cy="1168.6" r="8.0" fill="#E5933F"/>
<line x1="1297.8" y1="1168.6" x2="1331.4" y2="1168.6" stroke="#E5933F" stroke-width="2.0"/>
<circle cx="1312.0" cy="1168.6" r="8.0" fill="#E5933F"/>
<line x1="1527.1" y1="1168.6" x2="1565.2" y2="1168.6" stroke="#E5933F" stroke-width="2.0"/>
<circle cx="1549.7" cy="1168.6" r="8.0" fill="#E5933F"/>
<line x1="1717.0" y1="1168.6" x2="1750.6" y2="1168.6" stroke="#E5933F" stroke-width="2.0"/>
<circle cx="1738.4" cy="1168.6" r="8.0" fill="#E5933F"/>
<line x1="1962.5" y1="1168.6" x2="2012.9" y2="1168.6" stroke="#E5933F" stroke-width="2.0"/>
<circle cx="1993.5" cy="1168.6" r="8.0" fill="#E5933F"/>
<line x1="172.8" y1="1222.0" x2="225.1" y2="1222.0" stroke="#C25049" stroke-width="2.0"/>
<circle cx="207.5" cy="1222.0" r="8.0" fill="#C25049"/>
<line x1="405.9" y1="1222.0" x2="444.7" y2="1222.0" stroke="#C25049" stroke-width="2.0"/>
<circle cx="419.4" cy="1222.0" r="8.0" fill="#C25049"/>
<line x1="609.7" y1="1222.0" x2="680.2" y2="1222.0" stroke="#C25049" stroke-width="2.0"/>
<circle cx="647.9" cy="1222.0" r="8.0" fill="#C25049"/>
<line x1="826.4" y1="1222.0" x2="888.0" y2="1222.0" stroke="#C25049" stroke-width="2.0"/>
<circle cx="850.4" cy="1222.0" r="8.0" fill="#C25049"/>
<line x1="1066.5" y1="1222.0" x2="1098.2" y2="1222.0" stroke="#C25049" stroke-width="2.0"/>
<circle cx="1083.3" cy="1222.0" r="8.0" fill="#C25049"/>
<line x1="1283.6" y1="1222.0" x2="1349.5" y2="1222.0" stroke="#C25049" stroke-width="2.0"/>
<circle cx="1314.0" cy="1222.0" r="8.0" fill="#C25049"/>
<line x1="1512.3" y1="1222.0" x2="1558.1" y2="1222.0" stroke="#C25049" stroke-width="2.0"/>
<circle cx="1541.3" cy="1222.0" r="8.0" fill="#C25049"/>
<line x1="1739.7" y1="1222.0" x2="1798.4" y2="1222.0" stroke="#C25049" stroke-width="2.0"/>
<circle cx="1767.4" cy="1222.0" r="8.0" fill="#C25049"/>
<line x1="1984.5" y1="1222.0" x2="2025.8" y2="1222.0" stroke="#C25049" stroke-width="2.0"/>
<circle cx="2001.3" cy="1222.0" r="8.0" fill="#C25049"/>
<text x="39.3" y="1206.0" font-size="31.6" text-anchor="start" fill="#4D4D4D">USA</text>
<path d="M1834,1168.5 H1843.7 V1221.5 H1834" fill="none" stroke="#000" stroke-width="2.6"/>
<text x="0.0" y="0.0" font-size="27.4" text-anchor="middle" fill="#000" transform="translate(1855.2,1195.2) rotate(90)">0.042</text>
<text x="1156.8" y="1381.4" font-size="40" text-anchor="middle" fill="#000">Gender x AHI (n = 21)</text>
<line x1="902.8" y1="1422.5" x2="902.8" y2="1445.9" stroke="#C25049" stroke-width="2.0"/>
<circle cx="902.8" cy="1434.2" r="8.2" fill="#C25049"/>
<text x="934.4" y="1445.4" font-size="31.6" text-anchor="start" fill="#000">Female x Middle</text>
<line x1="1193.5" y1="1422.5" x2="1193.5" y2="1445.9" stroke="#E5933F" stroke-width="2.0"/>
<circle cx="1193.5" cy="1434.2" r="8.2" fill="#E5933F"/>
<text x="1225.8" y="1445.4" font-size="31.6" text-anchor="start" fill="#000">Male x Middle</text>
<text x="519.7" y="1508.6" font-size="31.6" text-anchor="middle" fill="#1A1A1A">safe</text>
<text x="226.9" y="1675.0" font-size="31.6" text-anchor="middle" fill="#4D4D4D">0</text>
<text x="519.8" y="1675.0" font-size="31.6" text-anchor="middle" fill="#4D4D4D">5</text>
<text x="812.6" y="1675.0" font-size="31.6" text-anchor="middle" fill="#4D4D4D">10</text>
<text x="1155.5" y="1508.6" font-size="31.6" text-anchor="middle" fill="#1A1A1A">depressing</text>
<text x="862.7" y="1675.0" font-size="31.6" text-anchor="middle" fill="#4D4D4D">0</text>
<text x="1155.5" y="1675.0" font-size="31.6" text-anchor="middle" fill="#4D4D4D">5</text>
<text x="1448.4" y="1675.0" font-size="31.6" text-anchor="middle" fill="#4D4D4D">10</text>
<text x="1791.3" y="1508.6" font-size="31.6" text-anchor="middle" fill="#1A1A1A">cycle</text>
<text x="1498.5" y="1675.0" font-size="31.6" text-anchor="middle" fill="#4D4D4D">0</text>
<text x="1791.3" y="1675.0" font-size="31.6" text-anchor="middle" fill="#4D4D4D">5</text>
<text x="2084.2" y="1675.0" font-size="31.6" text-anchor="middle" fill="#4D4D4D">10</text>
<line x1="373.5" y1="1554.7" x2="520.0" y2="1554.7" stroke="#E5933F" stroke-width="2.0"/>
<circle cx="471.1" cy="1554.7" r="8.0" fill="#E5933F"/>
<line x1="1106.9" y1="1554.7" x2="1209.7" y2="1554.7" stroke="#E5933F" stroke-width="2.0"/>
<circle cx="1156.1" cy="1554.7" r="8.0" fill="#E5933F"/>
<line x1="1719.0" y1="1554.7" x2="1843.8" y2="1554.7" stroke="#E5933F" stroke-width="2.0"/>
<circle cx="1776.3" cy="1554.7" r="8.0" fill="#E5933F"/>
<line x1="466.3" y1="1607.8" x2="593.1" y2="1607.8" stroke="#C25049" stroke-width="2.0"/>
<circle cx="519.7" cy="1607.8" r="8.0" fill="#C25049"/>
<line x1="1010.0" y1="1607.8" x2="1253.7" y2="1607.8" stroke="#C25049" stroke-width="2.0"/>
<circle cx="1171.5" cy="1607.8" r="8.0" fill="#C25049"/>
<line x1="1708.8" y1="1607.8" x2="1840.9" y2="1607.8" stroke="#C25049" stroke-width="2.0"/>
<circle cx="1758.7" cy="1607.8" r="8.0" fill="#C25049"/>
<text x="39.4" y="1593.0" font-size="31.6" text-anchor="start" fill="#4D4D4D">Netherlands</text>
<path d="M726.6,1554.8 H754.2 V1608.1 H726.6" fill="none" stroke="#000" stroke-width="2.6"/>
<text x="0.0" y="0.0" font-size="27.4" text-anchor="middle" fill="#000" transform="translate(769.3,1581.5) rotate(90)">0.016</text>
<text x="1088.0" y="1767.4" font-size="40" text-anchor="middle" fill="#000">Age group x AHI (n = 20)</text>
<line x1="222.8" y1="1808.4" x2="222.8" y2="1832.4" stroke="#6E2F22" stroke-width="2.0"/>
<circle cx="222.8" cy="1820.4" r="8.2" fill="#6E2F22"/>
<text x="253.7" y="1831.8" font-size="31.6" text-anchor="start" fill="#000">21−29 x Bottom</text>
<line x1="222.8" y1="1858.6" x2="222.8" y2="1882.6" stroke="#A6453B" stroke-width="2.0"/>
<circle cx="222.8" cy="1870.6" r="8.2" fill="#A6453B"/>
<text x="253.7" y="1882.0" font-size="31.6" text-anchor="start" fill="#000">21−29 x Middle</text>
<line x1="505.3" y1="1808.4" x2="505.3" y2="1832.4" stroke="#CE5F50" stroke-width="2.0"/>
<circle cx="505.3" cy="1820.4" r="8.2" fill="#CE5F50"/>
<text x="536.2" y="1831.8" font-size="31.6" text-anchor="start" fill="#000">21−29 x Upper</text>
<line x1="505.3" y1="1858.6" x2="505.3" y2="1882.6" stroke="#E57B66" stroke-width="2.0"/>
<circle cx="505.3" cy="1870.6" r="8.2" fill="#E57B66"/>
<text x="536.2" y="1882.0" font-size="31.6" text-anchor="start" fill="#000">30−39 x Bottom</text>
<line x1="788.2" y1="1808.4" x2="788.2" y2="1832.4" stroke="#E38D52" stroke-width="2.0"/>
<circle cx="788.2" cy="1820.4" r="8.2" fill="#E38D52"/>
<text x="819.1" y="1831.8" font-size="31.6" text-anchor="start" fill="#000">30−39 x Middle</text>
<line x1="788.2" y1="1858.6" x2="788.2" y2="1882.6" stroke="#E9A556" stroke-width="2.0"/>
<circle cx="788.2" cy="1870.6" r="8.2" fill="#E9A556"/>
<text x="819.1" y="1882.0" font-size="31.6" text-anchor="start" fill="#000">30−39 x Upper</text>
<line x1="1064.5" y1="1808.4" x2="1064.5" y2="1832.4" stroke="#EDC76C" stroke-width="2.0"/>
<circle cx="1064.5" cy="1820.4" r="8.2" fill="#EDC76C"/>
<text x="1095.4" y="1831.8" font-size="31.6" text-anchor="start" fill="#000">40−49 x Bottom</text>
<line x1="1064.5" y1="1858.6" x2="1064.5" y2="1882.6" stroke="#A9B886" stroke-width="2.0"/>
<circle cx="1064.5" cy="1870.6" r="8.2" fill="#A9B886"/>
<text x="1095.4" y="1882.0" font-size="31.6" text-anchor="start" fill="#000">40−49 x Middle</text>
<line x1="1347.2" y1="1808.4" x2="1347.2" y2="1832.4" stroke="#6F9488" stroke-width="2.0"/>
<circle cx="1347.2" cy="1820.4" r="8.2" fill="#6F9488"/>
<text x="1378.1" y="1831.8" font-size="31.6" text-anchor="start" fill="#000">40−49 x Upper</text>
<line x1="1347.2" y1="1858.6" x2="1347.2" y2="1882.6" stroke="#1F4D66" stroke-width="2.0"/>
<circle cx="1347.2" cy="1870.6" r="8.2" fill="#1F4D66"/>
<text x="1378.1" y="1882.0" font-size="31.6" text-anchor="start" fill="#000">Above 50 x Bottom</text>
<line x1="1674.2" y1="1808.4" x2="1674.2" y2="1832.4" stroke="#A7C7C9" stroke-width="2.0"/>
<circle cx="1674.2" cy="1820.4" r="8.2" fill="#A7C7C9"/>
<text x="1705.1" y="1831.8" font-size="31.6" text-anchor="start" fill="#000">Above 50 x Middle</text>
<line x1="1674.2" y1="1858.6" x2="1674.2" y2="1882.6" stroke="#8BB7BE" stroke-width="2.0"/>
<circle cx="1674.2" cy="1870.6" r="8.2" fill="#8BB7BE"/>
<text x="1705.1" y="1882.0" font-size="31.6" text-anchor="start" fill="#000">Above 50 x Upper</text>
<text x="167.5" y="1944.0" font-size="31.6" text-anchor="middle" fill="#1A1A1A">safe</text>
<text x="90.5" y="2640.5" font-size="31.6" text-anchor="middle" fill="#4D4D4D">0</text>
<text x="167.8" y="2640.5" font-size="31.6" text-anchor="middle" fill="#4D4D4D">5</text>
<text x="245.0" y="2640.5" font-size="31.6" text-anchor="middle" fill="#4D4D4D">10</text>
<line x1="144.8" y1="1992.8" x2="180.8" y2="1992.8" stroke="#8BB7BE" stroke-width="2.7"/>
<circle cx="162.6" cy="1992.8" r="8.0" fill="#8BB7BE"/>
<line x1="143.0" y1="2050.6" x2="181.4" y2="2050.6" stroke="#A7C7C9" stroke-width="2.7"/>
<circle cx="161.2" cy="2050.6" r="8.0" fill="#A7C7C9"/>
<line x1="142.1" y1="2108.4" x2="183.4" y2="2108.4" stroke="#1F4D66" stroke-width="2.7"/>
<circle cx="157.7" cy="2108.4" r="8.0" fill="#1F4D66"/>
<line x1="143.9" y1="2166.3" x2="186.4" y2="2166.3" stroke="#6F9488" stroke-width="2.7"/>
<circle cx="165.6" cy="2166.3" r="8.0" fill="#6F9488"/>
<line x1="142.1" y1="2224.1" x2="180.5" y2="2224.1" stroke="#A9B886" stroke-width="2.7"/>
<circle cx="167.9" cy="2224.1" r="8.0" fill="#A9B886"/>
<line x1="142.1" y1="2281.9" x2="177.6" y2="2281.9" stroke="#EDC76C" stroke-width="2.7"/>
<circle cx="161.2" cy="2281.9" r="8.0" fill="#EDC76C"/>
<line x1="144.8" y1="2339.7" x2="180.8" y2="2339.7" stroke="#E9A556" stroke-width="2.7"/>
<circle cx="163.5" cy="2339.7" r="8.0" fill="#E9A556"/>
<line x1="145.6" y1="2397.5" x2="184.0" y2="2397.5" stroke="#E38D52" stroke-width="2.7"/>
<circle cx="164.4" cy="2397.5" r="8.0" fill="#E38D52"/>
<line x1="142.1" y1="2455.4" x2="180.8" y2="2455.4" stroke="#E57B66" stroke-width="2.7"/>
<circle cx="159.7" cy="2455.4" r="8.0" fill="#E57B66"/>
<line x1="142.1" y1="2513.2" x2="191.1" y2="2513.2" stroke="#A6453B" stroke-width="2.7"/>
<circle cx="170.0" cy="2513.2" r="8.0" fill="#A6453B"/>
<line x1="142.1" y1="2571.0" x2="185.5" y2="2571.0" stroke="#6E2F22" stroke-width="2.7"/>
<circle cx="162.6" cy="2571.0" r="8.0" fill="#6E2F22"/>
<text x="372.1" y="1944.0" font-size="31.6" text-anchor="middle" fill="#1A1A1A">lively</text>
<text x="295.1" y="2640.5" font-size="31.6" text-anchor="middle" fill="#4D4D4D">0</text>
<text x="372.4" y="2640.5" font-size="31.6" text-anchor="middle" fill="#4D4D4D">5</text>
<text x="449.6" y="2640.5" font-size="31.6" text-anchor="middle" fill="#4D4D4D">10</text>
<line x1="338.0" y1="1992.8" x2="389.3" y2="1992.8" stroke="#8BB7BE" stroke-width="2.7"/>
<circle cx="364.1" cy="1992.8" r="8.0" fill="#8BB7BE"/>
<line x1="346.8" y1="2050.6" x2="387.0" y2="2050.6" stroke="#A7C7C9" stroke-width="2.7"/>
<circle cx="364.1" cy="2050.6" r="8.0" fill="#A7C7C9"/>
<line x1="346.8" y1="2108.4" x2="380.0" y2="2108.4" stroke="#1F4D66" stroke-width="2.7"/>
<circle cx="362.1" cy="2108.4" r="8.0" fill="#1F4D66"/>
<line x1="342.4" y1="2166.3" x2="372.3" y2="2166.3" stroke="#6F9488" stroke-width="2.7"/>
<circle cx="372.3" cy="2166.3" r="8.0" fill="#6F9488"/>
<line x1="341.8" y1="2224.1" x2="384.9" y2="2224.1" stroke="#A9B886" stroke-width="2.7"/>
<circle cx="359.7" cy="2224.1" r="8.0" fill="#A9B886"/>
<line x1="355.3" y1="2281.9" x2="384.9" y2="2281.9" stroke="#EDC76C" stroke-width="2.7"/>
<circle cx="368.2" cy="2281.9" r="8.0" fill="#EDC76C"/>
<line x1="355.3" y1="2339.7" x2="394.3" y2="2339.7" stroke="#E9A556" stroke-width="2.7"/>
<circle cx="372.0" cy="2339.7" r="8.0" fill="#E9A556"/>
<line x1="346.8" y1="2397.5" x2="384.9" y2="2397.5" stroke="#E38D52" stroke-width="2.7"/>
<circle cx="363.2" cy="2397.5" r="8.0" fill="#E38D52"/>
<line x1="342.7" y1="2455.4" x2="372.3" y2="2455.4" stroke="#E57B66" stroke-width="2.7"/>
<circle cx="353.0" cy="2455.4" r="8.0" fill="#E57B66"/>
<line x1="348.3" y1="2513.2" x2="383.5" y2="2513.2" stroke="#A6453B" stroke-width="2.7"/>
<circle cx="368.2" cy="2513.2" r="8.0" fill="#A6453B"/>
<line x1="350.3" y1="2571.0" x2="394.0" y2="2571.0" stroke="#6E2F22" stroke-width="2.7"/>
<circle cx="372.0" cy="2571.0" r="8.0" fill="#6E2F22"/>
<text x="576.7" y="1944.0" font-size="31.6" text-anchor="middle" fill="#1A1A1A">wealthy</text>
<text x="499.7" y="2640.5" font-size="31.6" text-anchor="middle" fill="#4D4D4D">0</text>
<text x="577.0" y="2640.5" font-size="31.6" text-anchor="middle" fill="#4D4D4D">5</text>
<text x="654.2" y="2640.5" font-size="31.6" text-anchor="middle" fill="#4D4D4D">10</text>
<line x1="544.2" y1="1999.2" x2="595.5" y2="1999.2" stroke="#8BB7BE" stroke-width="2.7"/>
<circle cx="565.9" cy="1999.2" r="8.0" fill="#8BB7BE"/>
<line x1="551.2" y1="2069.9" x2="594.6" y2="2069.9" stroke="#A7C7C9" stroke-width="2.7"/>
<circle cx="570.9" cy="2069.9" r="8.0" fill="#A7C7C9"/>
<line x1="553.3" y1="2140.6" x2="589.9" y2="2140.6" stroke="#1F4D66" stroke-width="2.7"/>
<circle cx="573.8" cy="2140.6" r="8.0" fill="#1F4D66"/>
<line x1="538.4" y1="2211.2" x2="583.2" y2="2211.2" stroke="#6F9488" stroke-width="2.7"/>
<circle cx="563.8" cy="2211.2" r="8.0" fill="#6F9488"/>
<line x1="557.7" y1="2281.9" x2="598.4" y2="2281.9" stroke="#E9A556" stroke-width="2.7"/>
<circle cx="582.0" cy="2281.9" r="8.0" fill="#E9A556"/>
<line x1="551.2" y1="2352.6" x2="591.7" y2="2352.6" stroke="#E38D52" stroke-width="2.7"/>
<circle cx="576.7" cy="2352.6" r="8.0" fill="#E38D52"/>
<line x1="541.3" y1="2423.2" x2="592.9" y2="2423.2" stroke="#E57B66" stroke-width="2.7"/>
<circle cx="557.4" cy="2423.2" r="8.0" fill="#E57B66"/>
<line x1="556.2" y1="2493.9" x2="603.7" y2="2493.9" stroke="#A6453B" stroke-width="2.7"/>
<circle cx="580.8" cy="2493.9" r="8.0" fill="#A6453B"/>
<line x1="551.0" y1="2564.6" x2="602.5" y2="2564.6" stroke="#6E2F22" stroke-width="2.7"/>
<circle cx="569.7" cy="2564.6" r="8.0" fill="#6E2F22"/>
<text x="781.3" y="1944.0" font-size="31.6" text-anchor="middle" fill="#1A1A1A">beautiful</text>
<text x="704.3" y="2640.5" font-size="31.6" text-anchor="middle" fill="#4D4D4D">0</text>
<text x="781.5" y="2640.5" font-size="31.6" text-anchor="middle" fill="#4D4D4D">5</text>
<text x="858.8" y="2640.5" font-size="31.6" text-anchor="middle" fill="#4D4D4D">10</text>
<line x1="751.8" y1="1999.2" x2="794.9" y2="1999.2" stroke="#8BB7BE" stroke-width="2.7"/>
<circle cx="772.7" cy="1999.2" r="8.0" fill="#8BB7BE"/>
<line x1="755.4" y1="2069.9" x2="794.6" y2="2069.9" stroke="#A7C7C9" stroke-width="2.7"/>
<circle cx="774.1" cy="2069.9" r="8.0" fill="#A7C7C9"/>
<line x1="756.2" y1="2140.6" x2="796.4" y2="2140.6" stroke="#1F4D66" stroke-width="2.7"/>
<circle cx="776.2" cy="2140.6" r="8.0" fill="#1F4D66"/>
<line x1="768.3" y1="2211.2" x2="806.9" y2="2211.2" stroke="#6F9488" stroke-width="2.7"/>
<circle cx="781.4" cy="2211.2" r="8.0" fill="#6F9488"/>
<line x1="760.1" y1="2281.9" x2="798.4" y2="2281.9" stroke="#E9A556" stroke-width="2.7"/>
<circle cx="776.2" cy="2281.9" r="8.0" fill="#E9A556"/>
<line x1="768.6" y1="2352.6" x2="793.8" y2="2352.6" stroke="#E38D52" stroke-width="2.7"/>
<circle cx="781.4" cy="2352.6" r="8.0" fill="#E38D52"/>
<line x1="749.2" y1="2423.2" x2="795.8" y2="2423.2" stroke="#E57B66" stroke-width="2.7"/>
<circle cx="768.6" cy="2423.2" r="8.0" fill="#E57B66"/>
<line x1="755.4" y1="2493.9" x2="793.8" y2="2493.9" stroke="#A6453B" stroke-width="2.7"/>
<circle cx="781.4" cy="2493.9" r="8.0" fill="#A6453B"/>
<line x1="755.4" y1="2564.6" x2="808.1" y2="2564.6" stroke="#6E2F22" stroke-width="2.7"/>
<circle cx="778.2" cy="2564.6" r="8.0" fill="#6E2F22"/>
<text x="985.9" y="1944.0" font-size="31.6" text-anchor="middle" fill="#1A1A1A">boring</text>
<text x="908.9" y="2640.5" font-size="31.6" text-anchor="middle" fill="#4D4D4D">0</text>
<text x="986.1" y="2640.5" font-size="31.6" text-anchor="middle" fill="#4D4D4D">5</text>
<text x="1063.4" y="2640.5" font-size="31.6" text-anchor="middle" fill="#4D4D4D">10</text>
<line x1="960.1" y1="1999.2" x2="1003.7" y2="1999.2" stroke="#8BB7BE" stroke-width="2.7"/>
<circle cx="982.0" cy="1999.2" r="8.0" fill="#8BB7BE"/>
<line x1="961.8" y1="2069.9" x2="997.3" y2="2069.9" stroke="#A7C7C9" stroke-width="2.7"/>
<circle cx="981.2" cy="2069.9" r="8.0" fill="#A7C7C9"/>
<line x1="960.1" y1="2140.6" x2="998.8" y2="2140.6" stroke="#1F4D66" stroke-width="2.7"/>
<circle cx="980.6" cy="2140.6" r="8.0" fill="#1F4D66"/>
<line x1="965.3" y1="2211.2" x2="1011.4" y2="2211.2" stroke="#6F9488" stroke-width="2.7"/>
<circle cx="985.9" cy="2211.2" r="8.0" fill="#6F9488"/>
<line x1="969.5" y1="2281.9" x2="998.8" y2="2281.9" stroke="#EDC76C" stroke-width="2.7"/>
<circle cx="985.6" cy="2281.9" r="8.0" fill="#EDC76C"/>
<line x1="964.2" y1="2352.6" x2="1001.7" y2="2352.6" stroke="#E9A556" stroke-width="2.7"/>
<circle cx="980.6" cy="2352.6" r="8.0" fill="#E9A556"/>
<line x1="968.0" y1="2423.2" x2="998.8" y2="2423.2" stroke="#E38D52" stroke-width="2.7"/>
<circle cx="985.6" cy="2423.2" r="8.0" fill="#E38D52"/>
<line x1="960.1" y1="2493.9" x2="1004.6" y2="2493.9" stroke="#E57B66" stroke-width="2.7"/>
<circle cx="983.2" cy="2493.9" r="8.0" fill="#E57B66"/>
<line x1="960.1" y1="2564.6" x2="1011.4" y2="2564.6" stroke="#6E2F22" stroke-width="2.7"/>
<circle cx="980.9" cy="2564.6" r="8.0" fill="#6E2F22"/>
<text x="1190.5" y="1944.0" font-size="31.6" text-anchor="middle" fill="#1A1A1A">depressing</text>
<text x="1113.5" y="2640.5" font-size="31.6" text-anchor="middle" fill="#4D4D4D">0</text>
<text x="1190.8" y="2640.5" font-size="31.6" text-anchor="middle" fill="#4D4D4D">5</text>
<text x="1268.0" y="2640.5" font-size="31.6" text-anchor="middle" fill="#4D4D4D">10</text>
<line x1="1165.1" y1="1992.8" x2="1204.6" y2="1992.8" stroke="#8BB7BE" stroke-width="2.7"/>
<circle cx="1185.9" cy="1992.8" r="8.0" fill="#8BB7BE"/>
<line x1="1164.5" y1="2050.6" x2="1200.5" y2="2050.6" stroke="#A7C7C9" stroke-width="2.7"/>
<circle cx="1186.8" cy="2050.6" r="8.0" fill="#A7C7C9"/>
<line x1="1168.3" y1="2108.4" x2="1205.8" y2="2108.4" stroke="#1F4D66" stroke-width="2.7"/>
<circle cx="1185.9" cy="2108.4" r="8.0" fill="#1F4D66"/>
<line x1="1164.5" y1="2166.3" x2="1208.7" y2="2166.3" stroke="#6F9488" stroke-width="2.7"/>
<circle cx="1190.3" cy="2166.3" r="8.0" fill="#6F9488"/>
<line x1="1164.5" y1="2224.1" x2="1202.9" y2="2224.1" stroke="#A9B886" stroke-width="2.7"/>
<circle cx="1177.1" cy="2224.1" r="8.0" fill="#A9B886"/>
<line x1="1177.7" y1="2281.9" x2="1208.7" y2="2281.9" stroke="#EDC76C" stroke-width="2.7"/>
<circle cx="1190.0" cy="2281.9" r="8.0" fill="#EDC76C"/>
<line x1="1153.4" y1="2339.7" x2="1198.8" y2="2339.7" stroke="#E9A556" stroke-width="2.7"/>
<circle cx="1178.3" cy="2339.7" r="8.0" fill="#E9A556"/>
<line x1="1164.5" y1="2397.5" x2="1202.9" y2="2397.5" stroke="#E38D52" stroke-width="2.7"/>
<circle cx="1180.9" cy="2397.5" r="8.0" fill="#E38D52"/>
<line x1="1158.3" y1="2455.4" x2="1196.4" y2="2455.4" stroke="#E57B66" stroke-width="2.7"/>
<circle cx="1179.7" cy="2455.4" r="8.0" fill="#E57B66"/>
<line x1="1164.5" y1="2513.2" x2="1207.6" y2="2513.2" stroke="#A6453B" stroke-width="2.7"/>
<circle cx="1189.1" cy="2513.2" r="8.0" fill="#A6453B"/>
<line x1="1164.5" y1="2571.0" x2="1204.9" y2="2571.0" stroke="#6E2F22" stroke-width="2.7"/>
<circle cx="1186.5" cy="2571.0" r="8.0" fill="#6E2F22"/>
<text x="1395.1" y="1944.0" font-size="31.6" text-anchor="middle" fill="#1A1A1A">live nearby</text>
<text x="1318.1" y="2640.5" font-size="31.6" text-anchor="middle" fill="#4D4D4D">0</text>
<text x="1395.3" y="2640.5" font-size="31.6" text-anchor="middle" fill="#4D4D4D">5</text>
<text x="1472.6" y="2640.5" font-size="31.6" text-anchor="middle" fill="#4D4D4D">10</text>
<line x1="1362.2" y1="1990.4" x2="1407.6" y2="1990.4" stroke="#8BB7BE" stroke-width="2.7"/>
<circle cx="1387.4" cy="1990.4" r="8.0" fill="#8BB7BE"/>
<line x1="1370.4" y1="2043.4" x2="1409.9" y2="2043.4" stroke="#A7C7C9" stroke-width="2.7"/>
<circle cx="1389.4" cy="2043.4" r="8.0" fill="#A7C7C9"/>
<line x1="1369.8" y1="2096.4" x2="1411.1" y2="2096.4" stroke="#1F4D66" stroke-width="2.7"/>
<circle cx="1390.3" cy="2096.4" r="8.0" fill="#1F4D66"/>
<line x1="1368.9" y1="2149.4" x2="1412.9" y2="2149.4" stroke="#6F9488" stroke-width="2.7"/>
<circle cx="1388.8" cy="2149.4" r="8.0" fill="#6F9488"/>
<line x1="1371.0" y1="2202.4" x2="1414.0" y2="2202.4" stroke="#A9B886" stroke-width="2.7"/>
<circle cx="1394.7" cy="2202.4" r="8.0" fill="#A9B886"/>
<line x1="1369.2" y1="2255.4" x2="1389.4" y2="2255.4" stroke="#EDC76C" stroke-width="2.7"/>
<circle cx="1389.4" cy="2255.4" r="8.0" fill="#EDC76C"/>
<line x1="1370.1" y1="2308.4" x2="1406.4" y2="2308.4" stroke="#E9A556" stroke-width="2.7"/>
<circle cx="1383.8" cy="2308.4" r="8.0" fill="#E9A556"/>
<line x1="1382.1" y1="2361.4" x2="1414.0" y2="2361.4" stroke="#E38D52" stroke-width="2.7"/>
<circle cx="1392.9" cy="2361.4" r="8.0" fill="#E38D52"/>
<line x1="1381.8" y1="2414.4" x2="1411.7" y2="2414.4" stroke="#E57B66" stroke-width="2.7"/>
<circle cx="1381.8" cy="2414.4" r="8.0" fill="#E57B66"/>
<line x1="1363.0" y1="2467.4" x2="1407.6" y2="2467.4" stroke="#CE5F50" stroke-width="2.7"/>
<circle cx="1390.9" cy="2467.4" r="8.0" fill="#CE5F50"/>
<line x1="1359.5" y1="2520.4" x2="1395.0" y2="2520.4" stroke="#A6453B" stroke-width="2.7"/>
<circle cx="1381.5" cy="2520.4" r="8.0" fill="#A6453B"/>
<line x1="1366.0" y1="2573.4" x2="1413.7" y2="2573.4" stroke="#6E2F22" stroke-width="2.7"/>
<circle cx="1387.7" cy="2573.4" r="8.0" fill="#6E2F22"/>
<text x="1599.7" y="1944.0" font-size="31.6" text-anchor="middle" fill="#1A1A1A">walk</text>
<text x="1522.7" y="2640.5" font-size="31.6" text-anchor="middle" fill="#4D4D4D">0</text>
<text x="1600.0" y="2640.5" font-size="31.6" text-anchor="middle" fill="#4D4D4D">5</text>
<text x="1677.2" y="2640.5" font-size="31.6" text-anchor="middle" fill="#4D4D4D">10</text>
<line x1="1571.0" y1="2003.7" x2="1615.8" y2="2003.7" stroke="#8BB7BE" stroke-width="2.7"/>
<circle cx="1592.4" cy="2003.7" r="8.0" fill="#8BB7BE"/>
<line x1="1573.3" y1="2083.2" x2="1609.7" y2="2083.2" stroke="#A7C7C9" stroke-width="2.7"/>
<circle cx="1592.1" cy="2083.2" r="8.0" fill="#A7C7C9"/>
<line x1="1579.2" y1="2162.7" x2="1618.7" y2="2162.7" stroke="#1F4D66" stroke-width="2.7"/>
<circle cx="1594.1" cy="2162.7" r="8.0" fill="#1F4D66"/>
<line x1="1580.1" y1="2242.2" x2="1612.6" y2="2242.2" stroke="#6F9488" stroke-width="2.7"/>
<circle cx="1595.0" cy="2242.2" r="8.0" fill="#6F9488"/>
<line x1="1583.9" y1="2321.7" x2="1619.9" y2="2321.7" stroke="#E9A556" stroke-width="2.7"/>
<circle cx="1596.2" cy="2321.7" r="8.0" fill="#E9A556"/>
<line x1="1573.3" y1="2401.2" x2="1631.3" y2="2401.2" stroke="#E38D52" stroke-width="2.7"/>
<circle cx="1599.1" cy="2401.2" r="8.0" fill="#E38D52"/>
<line x1="1571.9" y1="2480.7" x2="1618.7" y2="2480.7" stroke="#E57B66" stroke-width="2.7"/>
<circle cx="1590.6" cy="2480.7" r="8.0" fill="#E57B66"/>
<line x1="1580.1" y1="2560.2" x2="1611.7" y2="2560.2" stroke="#6E2F22" stroke-width="2.7"/>
<circle cx="1596.2" cy="2560.2" r="8.0" fill="#6E2F22"/>
<text x="1804.3" y="1944.0" font-size="31.6" text-anchor="middle" fill="#1A1A1A">cycle</text>
<text x="1727.3" y="2640.5" font-size="31.6" text-anchor="middle" fill="#4D4D4D">0</text>
<text x="1804.5" y="2640.5" font-size="31.6" text-anchor="middle" fill="#4D4D4D">5</text>
<text x="1881.8" y="2640.5" font-size="31.6" text-anchor="middle" fill="#4D4D4D">10</text>
<line x1="1778.0" y1="1992.8" x2="1821.7" y2="1992.8" stroke="#8BB7BE" stroke-width="2.7"/>
<circle cx="1802.6" cy="1992.8" r="8.0" fill="#8BB7BE"/>
<line x1="1781.2" y1="2050.6" x2="1819.9" y2="2050.6" stroke="#A7C7C9" stroke-width="2.7"/>
<circle cx="1797.4" cy="2050.6" r="8.0" fill="#A7C7C9"/>
<line x1="1782.1" y1="2108.4" x2="1817.0" y2="2108.4" stroke="#1F4D66" stroke-width="2.7"/>
<circle cx="1802.3" cy="2108.4" r="8.0" fill="#1F4D66"/>
<line x1="1768.4" y1="2166.3" x2="1817.6" y2="2166.3" stroke="#6F9488" stroke-width="2.7"/>
<circle cx="1796.2" cy="2166.3" r="8.0" fill="#6F9488"/>
<line x1="1771.3" y1="2224.1" x2="1801.8" y2="2224.1" stroke="#A9B886" stroke-width="2.7"/>
<circle cx="1789.2" cy="2224.1" r="8.0" fill="#A9B886"/>
<line x1="1773.3" y1="2281.9" x2="1810.5" y2="2281.9" stroke="#EDC76C" stroke-width="2.7"/>
<circle cx="1785.9" cy="2281.9" r="8.0" fill="#EDC76C"/>
<line x1="1776.0" y1="2339.7" x2="1821.7" y2="2339.7" stroke="#E9A556" stroke-width="2.7"/>
<circle cx="1795.0" cy="2339.7" r="8.0" fill="#E9A556"/>
<line x1="1784.5" y1="2397.5" x2="1816.1" y2="2397.5" stroke="#E38D52" stroke-width="2.7"/>
<circle cx="1799.7" cy="2397.5" r="8.0" fill="#E38D52"/>
<line x1="1769.5" y1="2455.4" x2="1816.7" y2="2455.4" stroke="#E57B66" stroke-width="2.7"/>
<circle cx="1791.5" cy="2455.4" r="8.0" fill="#E57B66"/>
<line x1="1781.2" y1="2513.2" x2="1816.1" y2="2513.2" stroke="#A6453B" stroke-width="2.7"/>
<circle cx="1798.5" cy="2513.2" r="8.0" fill="#A6453B"/>
<line x1="1775.1" y1="2571.0" x2="1816.7" y2="2571.0" stroke="#6E2F22" stroke-width="2.7"/>
<circle cx="1799.1" cy="2571.0" r="8.0" fill="#6E2F22"/>
<text x="2008.9" y="1944.0" font-size="31.6" text-anchor="middle" fill="#1A1A1A">green</text>
<text x="1931.9" y="2640.5" font-size="31.6" text-anchor="middle" fill="#4D4D4D">0</text>
<text x="2009.1" y="2640.5" font-size="31.6" text-anchor="middle" fill="#4D4D4D">5</text>
<text x="2086.4" y="2640.5" font-size="31.6" text-anchor="middle" fill="#4D4D4D">10</text>
<line x1="1970.9" y1="1995.7" x2="2029.5" y2="1995.7" stroke="#8BB7BE" stroke-width="2.7"/>
<circle cx="2003.7" cy="1995.7" r="8.0" fill="#8BB7BE"/>
<line x1="1974.4" y1="2059.3" x2="2033.3" y2="2059.3" stroke="#A7C7C9" stroke-width="2.7"/>
<circle cx="1999.6" cy="2059.3" r="8.0" fill="#A7C7C9"/>
<line x1="1982.6" y1="2122.9" x2="2029.5" y2="2122.9" stroke="#1F4D66" stroke-width="2.7"/>
<circle cx="2007.0" cy="2122.9" r="8.0" fill="#1F4D66"/>
<line x1="1990.5" y1="2186.5" x2="2040.4" y2="2186.5" stroke="#6F9488" stroke-width="2.7"/>
<circle cx="2014.0" cy="2186.5" r="8.0" fill="#6F9488"/>
<line x1="1977.1" y1="2250.1" x2="2020.7" y2="2250.1" stroke="#EDC76C" stroke-width="2.7"/>
<circle cx="1995.2" cy="2250.1" r="8.0" fill="#EDC76C"/>
<line x1="1978.8" y1="2313.7" x2="2018.4" y2="2313.7" stroke="#E9A556" stroke-width="2.7"/>
<circle cx="1992.9" cy="2313.7" r="8.0" fill="#E9A556"/>
<line x1="1971.8" y1="2377.3" x2="2023.4" y2="2377.3" stroke="#E38D52" stroke-width="2.7"/>
<circle cx="1986.7" cy="2377.3" r="8.0" fill="#E38D52"/>
<line x1="1977.1" y1="2440.9" x2="2023.4" y2="2440.9" stroke="#E57B66" stroke-width="2.7"/>
<circle cx="1995.2" cy="2440.9" r="8.0" fill="#E57B66"/>
<line x1="1966.5" y1="2504.5" x2="2011.1" y2="2504.5" stroke="#A6453B" stroke-width="2.7"/>
<circle cx="1994.1" cy="2504.5" r="8.0" fill="#A6453B"/>
<line x1="1977.1" y1="2568.1" x2="2023.4" y2="2568.1" stroke="#6E2F22" stroke-width="2.7"/>
<circle cx="2004.0" cy="2568.1" r="8.0" fill="#6E2F22"/>
<text x="37.8" y="2293.5" font-size="31.6" text-anchor="start" fill="#4D4D4D">All</text>
<path d="M432.7,2414.8 H441.3 V2573.4 H432.7" fill="none" stroke="#000" stroke-width="2.6"/>
<text x="0.0" y="0.0" font-size="27.4" text-anchor="middle" fill="#000" transform="translate(452.4,2494.4) rotate(90)">0.047</text>
<text x="1088.0" y="2685.5" font-size="39.8" text-anchor="middle" fill="#000">Perception Q Score median with 95% confidence intervals</text>
<text x="0.0" y="0.0" font-size="40" text-anchor="middle" fill="#000" transform="translate(29.8,1348.2) rotate(-90)">Participants from</text>
</svg>
</body></html>
